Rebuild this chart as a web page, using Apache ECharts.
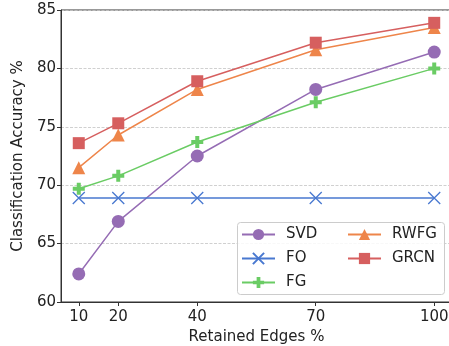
<!DOCTYPE html>
<html><head><meta charset="utf-8">
<script src="https://cdn.jsdelivr.net/npm/echarts@6/dist/echarts.min.js"></script>
<style>html,body{margin:0;padding:0;background:#fff}#c{width:449px;height:346px}</style>
</head><body><div id="c"></div>
<script>
const xValues = [10, 20, 40, 70, 100];
const xTicks = [10, 20, 40, 70, 100];
const svd = [62.4, 66.9, 72.5, 78.2, 81.4];
const fo = [68.9, 68.9, 68.9, 68.9, 68.9];
const fg = [69.7, 70.8, 73.7, 77.1, 80.0];
const rwfg = [71.5, 74.3, 78.2, 81.6, 83.5];
const grcn = [73.6, 75.3, 78.9, 82.2, 83.9];
const names = ['SVD', 'FO', 'FG', 'RWFG', 'GRCN'];
const colors = ['#956cb4', '#4878d0', '#6acc64', '#ee854a', '#d65f5f'];

const FONT = 'DejaVu Sans';
const FS = 15;
const crossPath = 'path://M0,0L10,10M10,0L0,10';
const plusPath = 'path://M1,0H2V1H3V2H2V3H1V2H0V1H1Z';
const symbols = ['circle', crossPath, plusPath, 'triangle', 'rect'];
const sizes = [13, 12, 12, 13, 12];
const dataArr = [svd, fo, fg, rwfg, grcn];

const series = names.map((n, i) => ({
  name: n,
  type: 'line',
  data: xValues.map((x, j) => [x, dataArr[i][j]]),
  symbol: symbols[i],
  symbolSize: sizes[i],
  showAllSymbol: true,
  lineStyle: { color: colors[i], width: 1.5 },
  itemStyle: i === 1
    ? { color: 'rgba(0,0,0,0)', borderColor: colors[i], borderWidth: 1.3 }
    : { color: colors[i], borderWidth: 0 },
  emphasis: { disabled: true },
  z: 2
}));

const chart = echarts.init(document.getElementById('c'), null, { renderer: 'canvas' });
const legendCommon = {
  orient: 'vertical', itemWidth: 33, itemHeight: 14, itemGap: 9,
  textStyle: { fontFamily: FONT, fontSize: FS, color: '#222', padding: [0, 0, 0, 6] },
  padding: 0, z: 10
};
chart.setOption({
  animation: false,
  color: colors,
  grid: { left: 61, top: 10, width: 391, height: 292, containLabel: false, outerBoundsMode: 'none', show: true, borderColor: '#333', borderWidth: 1, backgroundColor: 'transparent' },
  xAxis: {
    type: 'value', min: 5.5, max: 104.5,
    name: 'Retained Edges %', nameLocation: 'middle', nameGap: 24,
    nameTextStyle: { fontFamily: FONT, fontSize: FS, color: '#222' },
    axisLine: { show: true, lineStyle: { color: '#333', width: 1 } },
    axisTick: { show: true, length: 4, customValues: xTicks, lineStyle: { color: '#333' } },
    axisLabel: { customValues: xTicks, fontFamily: FONT, fontSize: FS, color: '#222', margin: 8 },
    splitLine: { show: false }
  },
  yAxis: {
    type: 'value', min: 60, max: 85, interval: 5,
    name: 'Classification Accuracy %', nameLocation: 'middle', nameGap: 31, nameRotate: 90,
    nameTextStyle: { fontFamily: FONT, fontSize: FS, color: '#222' },
    axisLine: { show: true, lineStyle: { color: '#333', width: 1 } },
    axisTick: { show: true, length: 4, lineStyle: { color: '#333' } },
    axisLabel: { fontFamily: FONT, fontSize: FS, color: '#222', margin: 5 },
    splitLine: { show: true, lineStyle: { color: '#c4c4c4', type: [3, 1.5], width: 0.8 } }
  },
  legend: [
    Object.assign({ data: ['SVD', 'FO', 'FG'], left: 241, top: 227 }, legendCommon),
    Object.assign({ data: ['RWFG', 'GRCN'], left: 347, top: 227 }, legendCommon)
  ],
  graphic: [{
    type: 'rect', z: 8, left: 237, top: 222,
    shape: { width: 207, height: 72, r: 3 },
    style: { fill: 'rgba(255,255,255,0.85)', stroke: '#cccccc', lineWidth: 1 }
  }],
  series: series
});
</script></body></html>
